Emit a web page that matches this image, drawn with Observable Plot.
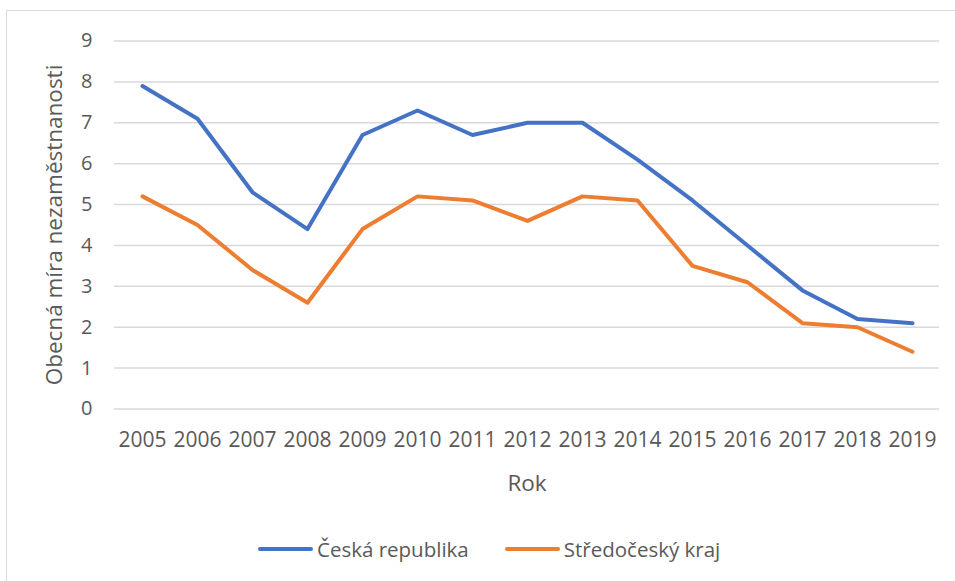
<!DOCTYPE html>
<html>
<head>
<meta charset="utf-8">
<script src="https://cdn.jsdelivr.net/npm/d3@7"></script>
<script src="https://cdn.jsdelivr.net/npm/@observablehq/plot@0.6"></script>
<style>
  html, body { margin: 0; padding: 0; background: #fff; }
  #wrap { position: relative; width: 955px; height: 581px; overflow: hidden; font-family: "Open Sans", sans-serif; }
  #border { position: absolute; left: 6px; top: 10px; width: 1000px; height: 620px; border: 1.5px solid #d9d9d9; box-sizing: border-box; }
  #chart { position: absolute; left: 0; top: 0; }
  #legend { position: absolute; top: 535px; left: 258px; display: flex; align-items: center; font-size: 20.5px; color: #595959; white-space: nowrap; }
  .item { display: flex; align-items: center; margin-right: 36px; }
  .sw { width: 55px; height: 4px; border-radius: 2px; margin-right: 4px; }
</style>
</head>
<body>
<div id="wrap">
  <div id="border"></div>
  <div id="chart"></div>
  <div id="legend"></div>
</div>
<script>
const years = [2005, 2006, 2007, 2008, 2009, 2010, 2011, 2012, 2013, 2014, 2015, 2016, 2017, 2018, 2019];
const ceskaRepublika = [7.9, 7.1, 5.3, 4.4, 6.7, 7.3, 6.7, 7.0, 7.0, 6.1, 5.1, 4.0, 2.9, 2.2, 2.1];
const stredoceskyKraj = [5.2, 4.5, 3.4, 2.6, 4.4, 5.2, 5.1, 4.6, 5.2, 5.1, 3.5, 3.1, 2.1, 2.0, 1.4];
const seriesNames = ["Česká republika", "Středočeský kraj"];
const seriesColors = ["#4472C4", "#ED7D31"];
const yTicks = [0, 1, 2, 3, 4, 5, 6, 7, 8, 9];
const yLabel = "Obecná míra nezaměstnanosti";
const xLabel = "Rok";

const data = [];
years.forEach((y, i) => {
  data.push({year: y, value: ceskaRepublika[i], series: seriesNames[0]});
  data.push({year: y, value: stredoceskyKraj[i], series: seriesNames[1]});
});

const plot = Plot.plot({
  width: 955,
  height: 510,
  marginLeft: 114,
  marginRight: 16,
  marginTop: 40.5,
  marginBottom: 101.5,
  style: {fontFamily: "Open Sans, sans-serif", color: "#595959", background: "transparent"},
  x: {type: "point", domain: years, padding: 0.5},
  y: {domain: [0, 9]},
  color: {domain: seriesNames, range: seriesColors},
  marks: [
    Plot.gridY(yTicks, {stroke: "#d9d9d9", strokeOpacity: 1, strokeWidth: 1.5}),
    Plot.axisY(yTicks, {tickSize: 0, tickPadding: 22, fontSize: 20, fill: "#595959",
      label: yLabel, labelAnchor: "center", labelArrow: "none", labelOffset: 68}),
    Plot.axisX({tickSize: 0, tickPadding: 23, fontSize: 21, fill: "#595959", tickFormat: d => String(d),
      label: xLabel, labelAnchor: "center", labelArrow: "none", labelOffset: 82}),
    Plot.line(data, {x: "year", y: "value", z: "series", stroke: "series", strokeWidth: 4, strokeLinejoin: "round", strokeLinecap: "round"})
  ]
});
document.getElementById("chart").appendChild(plot);

d3.select(plot).selectAll("g[aria-label='y-axis label'] text").attr("font-size", 22.5);
d3.select(plot).selectAll("g[aria-label='x-axis label'] text").attr("font-size", 22.5);

const legend = d3.select("#legend");
seriesNames.forEach((n, i) => {
  const it = legend.append("div").attr("class", "item");
  it.append("div").attr("class", "sw").style("background", seriesColors[i]);
  it.append("span").text(n);
});
</script>
</body>
</html>
